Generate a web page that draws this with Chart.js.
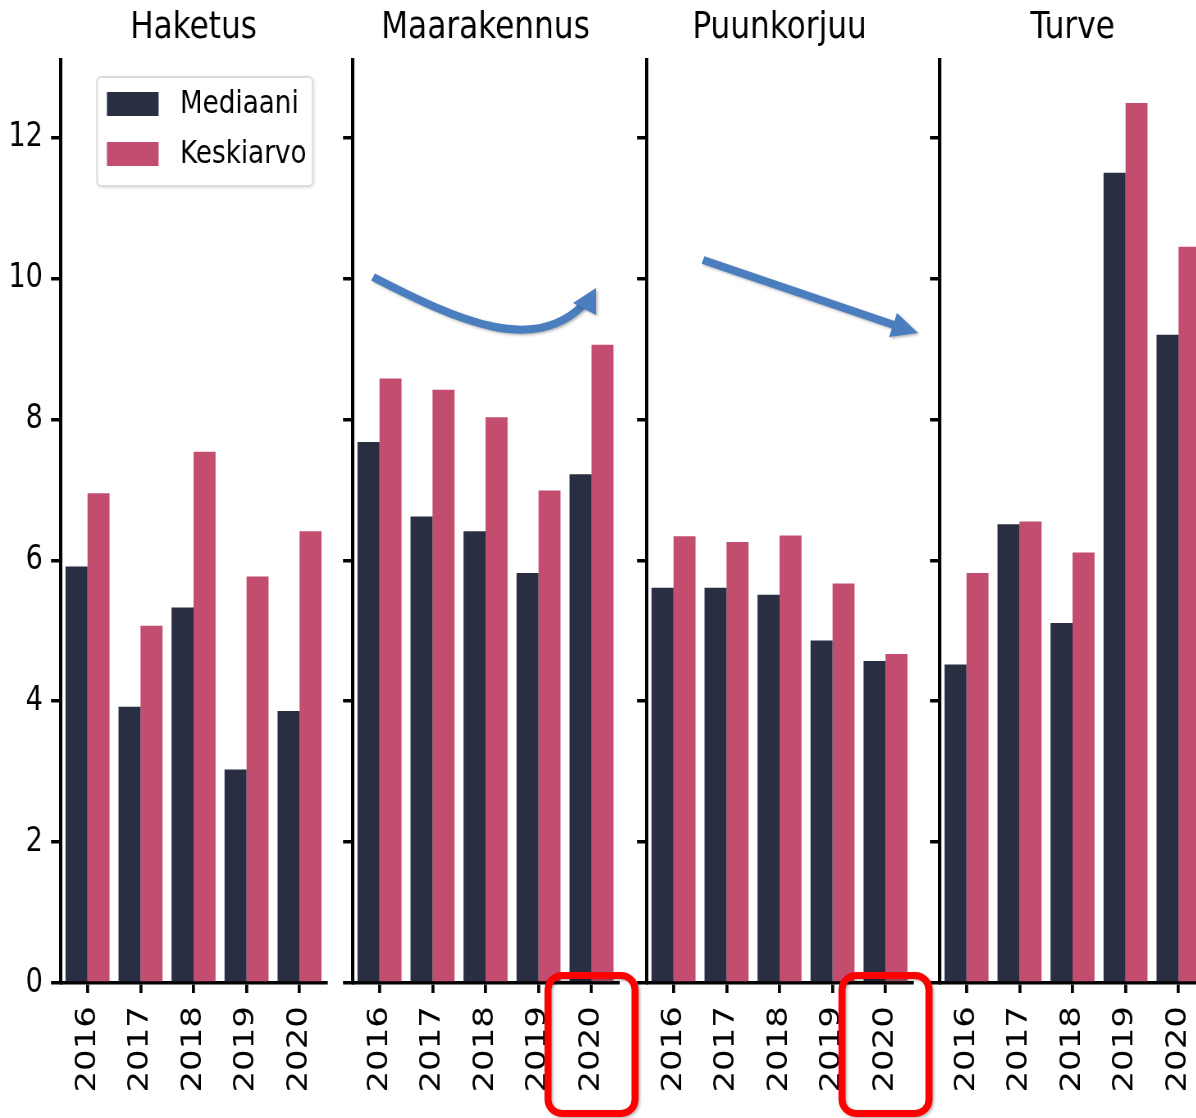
<!DOCTYPE html>
<html>
<head>
<meta charset="utf-8">
<script src="https://cdn.jsdelivr.net/npm/chart.js@4.4.0/dist/chart.umd.min.js"></script>
<style>
  html, body { margin: 0; padding: 0; width: 1196px; height: 1118px; overflow: hidden; background: #fff; }
  .panel { position: absolute; top: 0; transform: scaleX(0.82); transform-origin: 0 0; }
  #overlay { position: absolute; left: 0; top: 0; }
</style>
</head>
<body>
<canvas id="p0" class="panel" width="412" height="1118" style="left:0px"></canvas>
<canvas id="p1" class="panel" width="412" height="1118" style="left:292px"></canvas>
<canvas id="p2" class="panel" width="412" height="1118" style="left:586px"></canvas>
<canvas id="p3" class="panel" width="412" height="1118" style="left:879px"></canvas>
<canvas id="overlay" width="1196" height="1118"></canvas>
<script>
// data
const years = ["2016", "2017", "2018", "2019", "2020"];
const groups = ["Haketus", "Maarakennus", "Puunkorjuu", "Turve"];
const seriesNames = ["Mediaani", "Keskiarvo"];

const haketusMed = [5.91, 3.92, 5.33, 3.03, 3.86];
const haketusAvg = [6.95, 5.07, 7.54, 5.77, 6.41];
const maarakennusMed = [7.68, 6.62, 6.41, 5.82, 7.22];
const maarakennusAvg = [8.58, 8.42, 8.03, 6.99, 9.06];
const puunkorjuuMed = [5.61, 5.61, 5.51, 4.86, 4.57];
const puunkorjuuAvg = [6.34, 6.26, 6.35, 5.67, 4.67];
const turveMed = [4.52, 6.51, 5.11, 11.5, 9.2];
const turveAvg = [5.82, 6.55, 6.11, 12.49, 10.45];

const yTicks = [0, 2, 4, 6, 8, 10, 12];

const medians = [haketusMed, maarakennusMed, puunkorjuuMed, turveMed];
const means = [haketusAvg, maarakennusAvg, puunkorjuuAvg, turveAvg];

const DARK = "#292e42";
const PINK = "#c24d6f";
const FONT = "DejaVu Sans";
const SX = 0.82;               // horizontal squeeze of the original image
const panelLeft = [0, 292, 586, 879];

// legend box drawn inside the first panel
const legendBox = {
  id: "legendBox",
  afterDraw(chart, args, opts) {
    if (!opts.show) return;
    const ctx = chart.ctx;
    const a = chart.chartArea;
    const x0 = a.left + 44, y0 = 77, w = 263, h = 109;
    ctx.save();
    ctx.shadowColor = "rgba(0,0,0,0.18)";
    ctx.shadowBlur = 4;
    ctx.shadowOffsetX = 1;
    ctx.shadowOffsetY = 1;
    ctx.fillStyle = "#fff";
    ctx.beginPath();
    ctx.roundRect(x0, y0, w, h, 5);
    ctx.fill();
    ctx.shadowColor = "transparent";
    ctx.strokeStyle = "#dcdcdc";
    ctx.lineWidth = 2;
    ctx.stroke();
    ctx.font = "32px '" + FONT + "'";
    ctx.textBaseline = "middle";
    chart.data.datasets.forEach((ds, i) => {
      const cy = 104 + i * 50;
      ctx.fillStyle = ds.backgroundColor;
      ctx.fillRect(x0 + 12, cy - 12, 63, 24);
      ctx.fillStyle = "#000";
      ctx.fillText(ds.label, x0 + 101, cy + 1);
    });
    ctx.restore();
  }
};

const charts = groups.map((name, i) => {
  return new Chart(document.getElementById("p" + i), {
    type: "bar",
    data: {
      labels: years,
      datasets: [
        { label: seriesNames[0], data: medians[i], backgroundColor: DARK, borderWidth: 0 },
        { label: seriesNames[1], data: means[i], backgroundColor: PINK, borderWidth: 0 }
      ]
    },
    options: {
      responsive: false,
      animation: false,
      categoryPercentage: 0.83,
      barPercentage: 1.0,
      layout: { padding: { left: 0, right: 14.4, top: 0, bottom: 0 } },
      plugins: {
        legend: { display: false },
        tooltip: { enabled: false },
        title: {
          display: true,
          text: name,
          fullSize: false,
          color: "#000",
          font: { family: FONT, size: 38, weight: "normal" },
          padding: { top: 5, bottom: 9.4 }
        },
        legendBox: { show: i === 0 }
      },
      scales: {
        x: {
          offset: true,
          grid: { drawOnChartArea: false, offset: false, drawTicks: true, tickLength: 10, lineWidth: 3.7, color: "#000" },
          border: { display: true, color: "#000", width: 3.5 },
          ticks: {
            color: "#000",
            font: { family: FONT, size: 34 },
            minRotation: 90,
            maxRotation: 90,
            padding: 13
          },
          afterFit(scale) {
            scale.height = 135;
            scale.paddingLeft = 0;
            scale.paddingRight = 0;
          }
        },
        y: {
          min: 0,
          max: 13.1,
          grid: { drawOnChartArea: false, drawTicks: true, tickLength: 12.2, lineWidth: 3.5, color: "#000" },
          border: { display: true, color: "#000", width: 4 },
          afterBuildTicks(scale) { scale.ticks = yTicks.map(v => ({ value: v })); },
          ticks: {
            display: i === 0,
            color: "#000",
            font: { family: FONT, size: 33 },
            padding: 10,
            includeBounds: false
          },
          afterFit(scale) {
            scale.width = 74.4;
            scale.paddingTop = 0;
            scale.paddingBottom = 0;
          }
        }
      }
    },
    plugins: [legendBox]
  });
});

// annotations drawn on top (arrows and red boxes around the 2020 labels)
const ov = document.getElementById("overlay").getContext("2d");
ov.save();
ov.shadowColor = "rgba(0,0,0,0.3)";
ov.shadowBlur = 3;
ov.shadowOffsetX = 1.5;
ov.shadowOffsetY = 1.5;

ov.strokeStyle = "#4a7ebf";
ov.fillStyle = "#4a7ebf";
ov.lineWidth = 8;
ov.beginPath();
ov.moveTo(373, 277);
ov.bezierCurveTo(460, 322, 535, 355, 584, 304);
ov.stroke();
ov.beginPath();
ov.moveTo(596, 288);
ov.lineTo(573, 303);
ov.lineTo(596, 315);
ov.closePath();
ov.fill();

ov.beginPath();
ov.moveTo(703, 260);
ov.lineTo(894, 325);
ov.stroke();
ov.beginPath();
ov.moveTo(918, 333);
ov.lineTo(897, 313);
ov.lineTo(889, 337);
ov.closePath();
ov.fill();

ov.strokeStyle = "#ff0000";
ov.lineWidth = 7;
[1, 2].forEach(ci => {
  const c = charts[ci];
  const cx = panelLeft[ci] + c.scales.x.getPixelForValue(4) * SX;
  ov.beginPath();
  ov.roundRect(cx - 43.5, 975.5, 87, 138, 14);
  ov.stroke();
});
ov.restore();
</script>
</body>
</html>
